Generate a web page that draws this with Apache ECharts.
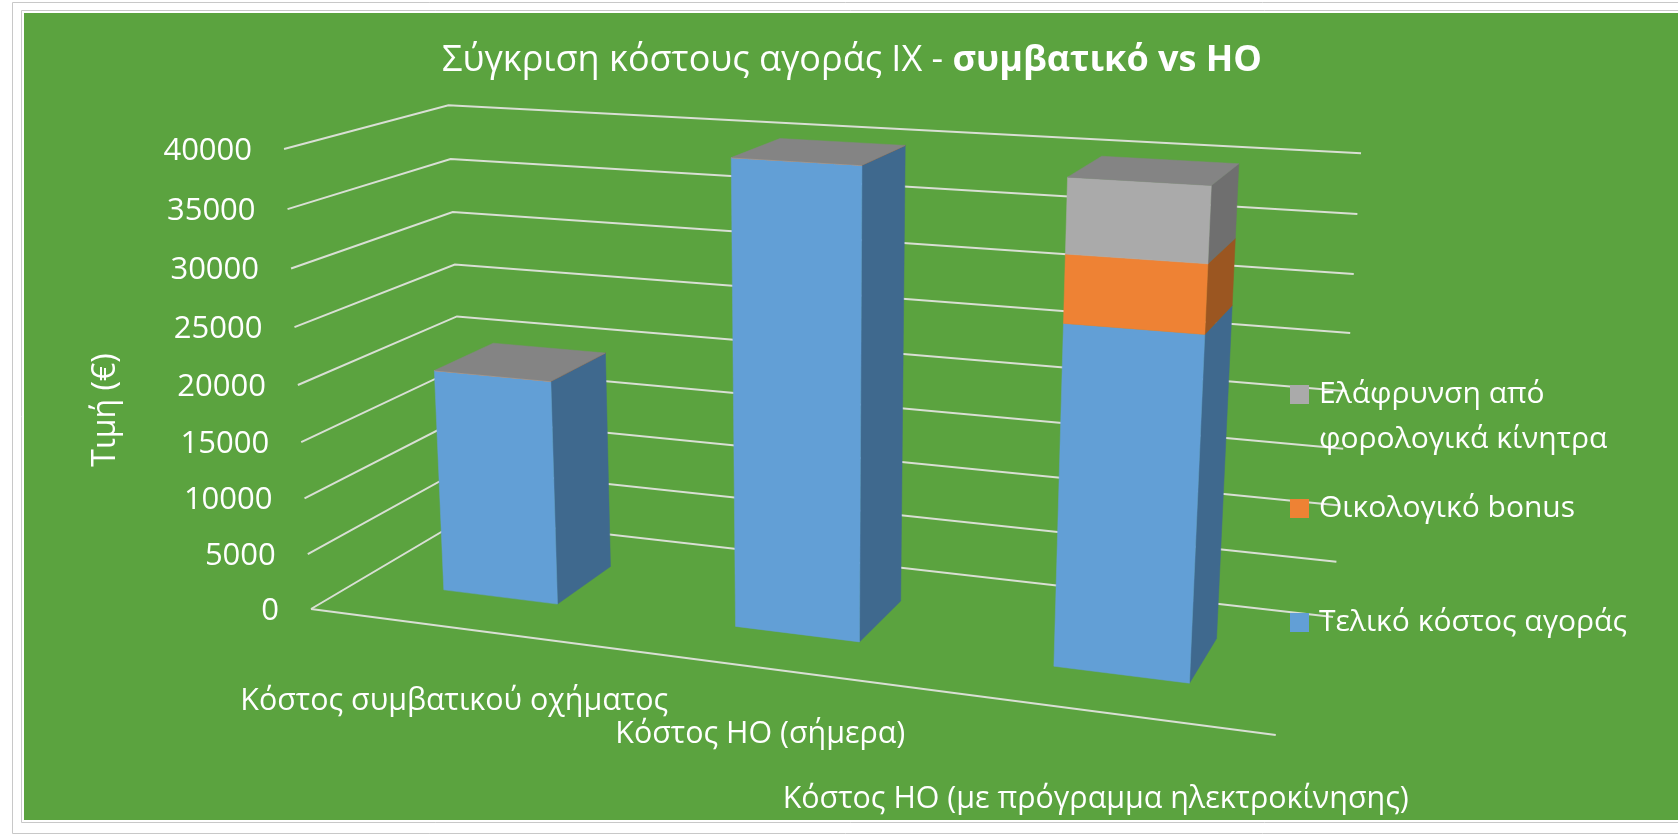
<!DOCTYPE html>
<html>
<head>
<meta charset="utf-8">
<title>Σύγκριση κόστους αγοράς ΙΧ</title>
<style>
    html, body {margin: 0; padding: 0; background: #fff;}
    #chart {width: 1678px; height: 836px;}
</style>
<script src="https://cdn.jsdelivr.net/npm/echarts@6/dist/echarts.min.js"></script>
</head>
<body>
<div id="chart"></div>
<script>
const categories = ["Κόστος συμβατικού οχήματος", "Κόστος ΗΟ (σήμερα)", "Κόστος ΗΟ (με πρόγραμμα ηλεκτροκίνησης)"];
const finalCost = [20000, 40000, 28500];
const ecoBonus = [0, 0, 5500];
const taxRelief = [0, 0, 6000];
const yTicks = [0, 5000, 10000, 15000, 20000, 25000, 30000, 35000, 40000];
const seriesNames = ["Τελικό κόστος αγοράς", "Οικολογικό bonus", "Ελάφρυνση από φορολογικά κίνητρα"];
const legendLabels = ["Τελικό κόστος αγοράς", "Οικολογικό bonus", "Ελάφρυνση από\nφορολογικά κίνητρα"];

const FONT = "'Open Sans', 'Noto Sans', sans-serif";
const WHITE = "#ffffff";
const GRID_LINE = "#d9dfd4";
const TOP_FACE = "#848484";
const frontColors = ["#629fd6", "#ee8234", "#aaaaaa"];
const sideColors = ["#3f698e", "#9b5621", "#6f6f6f"];

// how far the category labels sit below the front edge of the floor
const catLabelOffset = [74, 67, 88];
const legendY = [622, 508, 394];

// perspective of the Excel 3D box, fitted on the corners of the walls
// u = along categories, v = value 0..1, w = depth 0 (front) .. 1 (back)
const project = (u, v, w) => {
    const d = 1 - 0.1282 * u - 0.0508 * v + 0.1199 * w;
    return [
        (311 + 801.2 * u - 41.4 * v + 209.8 * w) / d,
        (609 + 31.8 * u - 467.6 * v - 28.9 * w) / d,
    ];
};

const toU = (px, cs) => (px - cs.x) / cs.width;
const toV = (py, cs) => (cs.y + cs.height - py) / cs.height;

const poly = (points, fill) => ({
    type: "polygon",
    shape: {points},
    style: {fill, stroke: fill, lineWidth: 0.5},
});

const line = (points, width) => ({
    type: "polyline",
    shape: {points},
    style: {fill: "none", stroke: GRID_LINE, lineWidth: width},
});

const renderTick = (params, api) => {
    const cs = params.coordSys;
    const v = toV(api.coord([0, api.value(1)])[1], cs);
    const front = project(0, v, 0);
    const children = [
        line([front, project(0, v, 1), project(1, v, 1)], 2),
        {
            type: "text",
            style: {
                text: String(api.value(1)),
                x: front[0] - 32,
                y: front[1] + 2,
                align: "right",
                verticalAlign: "middle",
                fill: WHITE,
                fontFamily: FONT,
                fontSize: 31,
            },
        },
    ];
    if (api.value(1) === 0) children.push(line([front, project(1, 0, 0)], 2));
    return {type: "group", children};
};

const renderCatLabel = (params, api) => {
    const cs = params.coordSys;
    const u = toU(api.coord([api.value(0), 0])[0], cs);
    const p = project(u, 0, 0);
    return {
        type: "text",
        style: {
            text: categories[api.value(0)],
            x: p[0],
            y: p[1] + catLabelOffset[api.value(0)],
            align: "center",
            verticalAlign: "middle",
            fill: WHITE,
            fontFamily: FONT,
            fontSize: 30.4,
        },
    };
};

const renderBar = (seriesIndex, isTop) => (params, api) => {
    const cs = params.coordSys;
    const idx = api.value(0);
    const center = api.coord([idx, 0])[0];
    const half = api.size([1, 0])[0] / 2.5 / 2; // gap width 150%
    const u0 = toU(center - half, cs);
    const u1 = toU(center + half, cs);
    const v0 = toV(api.coord([idx, api.value(1)])[1], cs);
    const v1 = toV(api.coord([idx, api.value(2)])[1], cs);
    const w0 = 0.3;
    const w1 = 0.69;
    const children = [
        poly([project(u1, v0, w0), project(u1, v0, w1), project(u1, v1, w1), project(u1, v1, w0)], sideColors[seriesIndex]),
        poly([project(u0, v0, w0), project(u1, v0, w0), project(u1, v1, w0), project(u0, v1, w0)], frontColors[seriesIndex]),
    ];
    if (isTop) {
        children.push(poly([project(u0, v1, w0), project(u1, v1, w0), project(u1, v1, w1), project(u0, v1, w1)], TOP_FACE));
    }
    return {type: "group", children};
};

const stackData = (values, below) => values.map((val, i) => [i, below[i], below[i] + val]);
const base2 = finalCost.map((val, i) => val + ecoBonus[i]);
const zeros = finalCost.map(() => 0);

const legendGraphics = [];
legendLabels.forEach((label, i) => {
    legendGraphics.push({
        type: "rect",
        z: 20,
        shape: {x: 1290, y: legendY[i] - 9, width: 19, height: 19},
        style: {fill: frontColors[i]},
    });
    legendGraphics.push({
        type: "text",
        z: 20,
        style: {
            text: label,
            x: 1319,
            y: legendY[i] - 22.5,
            verticalAlign: "top",
            lineHeight: 45,
            fill: WHITE,
            fontFamily: FONT,
            fontSize: 30,
        },
    });
});

const option = {
    animation: false,
    backgroundColor: "#ffffff",
    title: {
        left: 847,
        top: 56,
        textAlign: "center",
        textVerticalAlign: "middle",
        text: "{a|Σύγκριση κόστους αγοράς ΙΧ - }{b|συμβατικό vs ΗΟ}",
        textStyle: {
            rich: {
                a: {color: WHITE, fontFamily: FONT, fontSize: 36, fontWeight: "normal"},
                b: {color: WHITE, fontFamily: FONT, fontSize: 36, fontWeight: "bold"},
            },
        },
    },
    grid: {left: 300, top: 100, width: 1000, height: 500},
    xAxis: {type: "category", data: categories, show: false},
    yAxis: {type: "value", min: 0, max: 40000, interval: 5000, show: false},
    graphic: [
        {type: "rect", z: -10, shape: {x: 12.5, y: 2.5, width: 1700, height: 831}, style: {fill: "#ffffff", stroke: "#c8c8c8", lineWidth: 1}},
        {type: "rect", z: -9, shape: {x: 21.5, y: 10.5, width: 1700, height: 812}, style: {fill: "#ffffff", stroke: "#c8c8c8", lineWidth: 1}},
        {type: "rect", z: -8, shape: {x: 24, y: 13, width: 1654, height: 807}, style: {fill: "#5ba33f"}},
        {
            type: "text",
            z: 20,
            rotation: Math.PI / 2,
            x: 106,
            y: 410,
            style: {
                text: "Τιμή (€)",
                align: "center",
                verticalAlign: "middle",
                fill: WHITE,
                fontFamily: FONT,
                fontSize: 32,
            },
        },
        ...legendGraphics,
    ],
    series: [
        {
            type: "custom",
            name: "ticks",
            renderItem: renderTick,
            encode: {x: 0, y: 1},
            data: yTicks.map((t) => [0, t]),
            silent: true,
        },
        {
            type: "custom",
            name: seriesNames[0],
            renderItem: renderBar(0, false),
            encode: {x: 0, y: [1, 2]},
            data: stackData(finalCost, zeros),
        },
        {
            type: "custom",
            name: seriesNames[1],
            renderItem: renderBar(1, false),
            encode: {x: 0, y: [1, 2]},
            data: stackData(ecoBonus, finalCost),
        },
        {
            type: "custom",
            name: seriesNames[2],
            renderItem: renderBar(2, true),
            encode: {x: 0, y: [1, 2]},
            data: stackData(taxRelief, base2),
        },
        {
            type: "custom",
            name: "labels",
            renderItem: renderCatLabel,
            encode: {x: 0, y: 1},
            data: categories.map((c, i) => [i, 0]),
            silent: true,
        },
    ],
};

const myChart = echarts.init(document.getElementById("chart"));
myChart.setOption(option);
</script>
</body>
</html>
